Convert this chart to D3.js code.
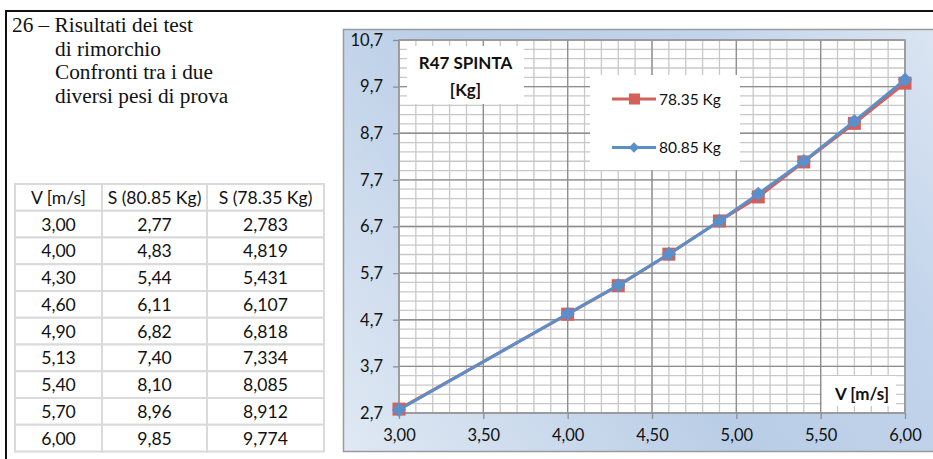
<!DOCTYPE html>
<html>
<head>
<meta charset="utf-8">
<script src="https://cdn.jsdelivr.net/npm/d3@7/dist/d3.min.js"></script>
<style>
  html, body { margin: 0; padding: 0; background: #fff; }
  svg { display: block; }
</style>
</head>
<body>
<svg id="page" width="933" height="459"></svg>
<script>
// Towing test results: push force S at speed V for two test weights
const speeds = [3.00, 4.00, 4.30, 4.60, 4.90, 5.13, 5.40, 5.70, 6.00];
const push8085 = [2.77, 4.83, 5.44, 6.11, 6.82, 7.40, 8.10, 8.96, 9.85];
const push7835 = [2.783, 4.819, 5.431, 6.107, 6.818, 7.334, 8.085, 8.912, 9.774];
const tableHeaders = ["V [m/s]", "S (80.85 Kg)", "S (78.35 Kg)"];
const yTickValues = [2.7, 3.7, 4.7, 5.7, 6.7, 7.7, 8.7, 9.7, 10.7];
const xTickValues = [3.00, 3.50, 4.00, 4.50, 5.00, 5.50, 6.00];
const headingLines = ["26 – Risultati dei test", "di rimorchio", "Confronti tra i due", "diversi pesi di prova"];
const chartTitle = ["R47 SPINTA", "[Kg]"];
const xAxisTitle = "V [m/s]";
const seriesNames = ["78.35 Kg", "80.85 Kg"];

const it = d3.formatLocale({decimal: ",", thousands: ".", grouping: [3], currency: ["€", ""]});
const f1 = it.format(".1f"), f2 = it.format(".2f"), f3 = it.format(".3f");

const svg = d3.select("#page");
const sans = "Lato, 'Open Sans', sans-serif";

// page frame
svg.append("line").attr("x1", 6).attr("x2", 933).attr("y1", 11).attr("y2", 11)
  .attr("stroke", "#111").attr("stroke-width", 2);
svg.append("line").attr("x1", 6).attr("x2", 6).attr("y1", 10).attr("y2", 459)
  .attr("stroke", "#111").attr("stroke-width", 2);

// heading
const head = svg.append("text").attr("font-family", "'Liberation Serif', 'Times New Roman', serif")
  .attr("font-size", 21.3).attr("fill", "#111");
headingLines.forEach((t, i) => {
  head.append("tspan").attr("x", i === 0 ? 12 : 55).attr("y", 32 + i * 23.7).text(t);
});

// data table
const colEdges = [15, 102, 207, 324];
const tTop = 184, rowH = 26.75;
const rows = speeds.map((v, i) => [f2(v), f2(push8085[i]), f3(push7835[i])]);
const allRows = [tableHeaders, ...rows];
const tbl = svg.append("g");
allRows.forEach((r, ri) => {
  r.forEach((c, ci) => {
    const x0 = colEdges[ci], x1 = colEdges[ci + 1];
    const y0 = tTop + ri * rowH;
    tbl.append("rect").attr("x", x0).attr("y", y0).attr("width", x1 - x0).attr("height", rowH)
      .attr("fill", "#fff").attr("stroke", "#dadada").attr("stroke-width", 2);
    tbl.append("text").attr("x", (x0 + x1) / 2).attr("y", y0 + rowH / 2 + 6.5)
      .attr("text-anchor", "middle").attr("font-family", sans).attr("font-size", 17.6)
      .attr("fill", "#111").text(c);
  });
});

// chart frame with gradient fill
const defs = svg.append("defs");
const grad = defs.append("linearGradient").attr("id", "frameFill")
  .attr("gradientUnits", "userSpaceOnUse")
  .attr("x1", 343).attr("y1", 452).attr("x2", 933).attr("y2", 29);
grad.append("stop").attr("offset", 0).attr("stop-color", "#e0e9f4");
grad.append("stop").attr("offset", 0.45).attr("stop-color", "#b9cde6");
grad.append("stop").attr("offset", 0.75).attr("stop-color", "#c2d4eb");
grad.append("stop").attr("offset", 1).attr("stop-color", "#dbe5f2");
svg.append("rect").attr("x", 343.5).attr("y", 29.5).attr("width", 600).attr("height", 422)
  .attr("fill", "url(#frameFill)").attr("stroke", "#9a9a9a").attr("stroke-width", 1.5);

// scales
const x = d3.scaleLinear().domain([3, 6]).range([399, 905]);
const y = d3.scaleLinear().domain([2.7, 10.7]).range([413, 40]);

const plot = svg.append("g");
plot.append("rect").attr("x", x(3)).attr("y", y(10.7)).attr("width", x(6) - x(3)).attr("height", y(2.7) - y(10.7))
  .attr("fill", "#fff");

// minor grid
const xMinor = d3.range(31).map(i => +(3 + i * 0.1).toFixed(2));
const yMinor = d3.range(41).map(i => +(2.7 + i * 0.2).toFixed(2));
plot.selectAll(".vmin").data(xMinor).join("line")
  .attr("x1", d => x(d)).attr("x2", d => x(d)).attr("y1", y(10.7)).attr("y2", y(2.7))
  .attr("stroke", "#c8c8c8").attr("stroke-width", 1.3);
plot.selectAll(".hmin").data(yMinor).join("line")
  .attr("x1", x(3)).attr("x2", x(6)).attr("y1", d => y(d)).attr("y2", d => y(d))
  .attr("stroke", "#c8c8c8").attr("stroke-width", 1.3);
// major grid
plot.selectAll(".vmaj").data(xTickValues).join("line")
  .attr("x1", d => x(d)).attr("x2", d => x(d)).attr("y1", y(10.7)).attr("y2", y(2.7))
  .attr("stroke", "#8e8e8e").attr("stroke-width", 1.3);
plot.selectAll(".hmaj").data(yTickValues).join("line")
  .attr("x1", x(3)).attr("x2", x(6)).attr("y1", d => y(d)).attr("y2", d => y(d))
  .attr("stroke", "#8e8e8e").attr("stroke-width", 1.3);
plot.append("rect").attr("x", x(3)).attr("y", y(10.7)).attr("width", x(6) - x(3)).attr("height", y(2.7) - y(10.7))
  .attr("fill", "none").attr("stroke", "#9a9a9a").attr("stroke-width", 1.5);

// axes
const yAxis = svg.append("g").attr("transform", `translate(${x(3)},0)`)
  .call(d3.axisLeft(y).tickValues(yTickValues).tickFormat(f1).tickSize(6).tickPadding(10));
const xAxis = svg.append("g").attr("transform", `translate(0,${y(2.7)})`)
  .call(d3.axisBottom(x).tickValues(xTickValues).tickFormat(f2).tickSize(6).tickPadding(10));
[yAxis, xAxis].forEach(a => {
  a.select(".domain").remove();
  a.selectAll(".tick line").attr("stroke", "#8e8e8e").attr("stroke-width", 1.3);
  a.selectAll(".tick text").attr("font-family", sans).attr("font-size", 16.5).attr("fill", "#111");
});

// chart title box
svg.append("rect").attr("x", 407).attr("y", 46).attr("width", 117).attr("height", 58).attr("fill", "#fff");
chartTitle.forEach((t, i) => {
  svg.append("text").attr("x", 465.5).attr("y", 68.5 + i * 27).attr("text-anchor", "middle")
    .attr("font-family", sans).attr("font-weight", "bold").attr("font-size", 17).attr("fill", "#111").text(t);
});

// x axis title box
svg.append("rect").attr("x", 822).attr("y", 376).attr("width", 74).attr("height", 30).attr("fill", "#fff");
svg.append("text").attr("x", 862).attr("y", 400).attr("text-anchor", "middle")
  .attr("font-family", sans).attr("font-weight", "bold").attr("font-size", 17).attr("fill", "#111").text(xAxisTitle);

// series
const red = "#d3605a", blue = "#5b8fca";
const line = d3.line().x(d => x(d[0])).y(d => y(d[1]));
const data78 = speeds.map((v, i) => [v, push7835[i]]);
const data80 = speeds.map((v, i) => [v, push8085[i]]);

svg.append("path").datum(data78).attr("d", line).attr("fill", "none").attr("stroke", red).attr("stroke-width", 3);
svg.selectAll(".sq").data(data78).join("rect")
  .attr("x", d => x(d[0]) - 6.5).attr("y", d => y(d[1]) - 6.5).attr("width", 13).attr("height", 13).attr("fill", red);

const diamond = d3.symbol().type(d3.symbolDiamond2).size(130);
svg.append("path").datum(data80).attr("d", line).attr("fill", "none").attr("stroke", blue).attr("stroke-width", 3);
svg.selectAll(".dm").data(data80).join("path")
  .attr("d", diamond).attr("transform", d => `translate(${x(d[0])},${y(d[1])})`).attr("fill", blue);

// legend
svg.append("rect").attr("x", 590).attr("y", 75).attr("width", 150).attr("height", 95).attr("fill", "#fff");
const legendRows = [{name: seriesNames[0], color: red, shape: "square", ly: 99},
                    {name: seriesNames[1], color: blue, shape: "diamond", ly: 147.5}];
legendRows.forEach(r => {
  svg.append("line").attr("x1", 612).attr("x2", 656).attr("y1", r.ly).attr("y2", r.ly)
    .attr("stroke", r.color).attr("stroke-width", 3);
  if (r.shape === "square") {
    svg.append("rect").attr("x", 629).attr("y", r.ly - 5.5).attr("width", 11).attr("height", 11).attr("fill", r.color);
  } else {
    svg.append("path").attr("d", d3.symbol().type(d3.symbolDiamond2).size(70))
      .attr("transform", `translate(634,${r.ly})`).attr("fill", r.color);
  }
  svg.append("text").attr("x", 659).attr("y", r.ly + 5.5).attr("font-family", sans).attr("font-size", 15.5)
    .attr("fill", "#111").text(r.name);
});
</script>
</body>
</html>
